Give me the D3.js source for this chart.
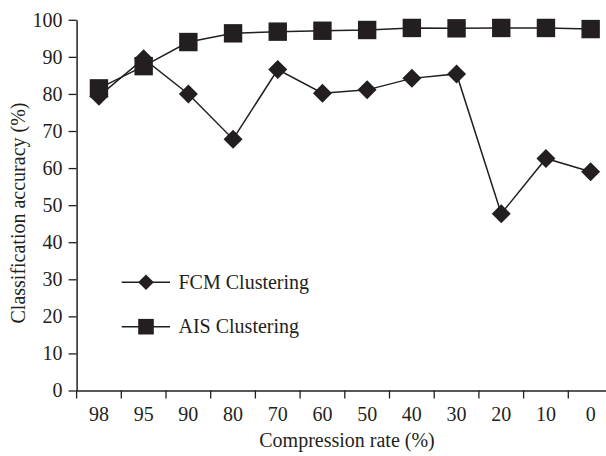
<!DOCTYPE html>
<html>
<head>
<meta charset="utf-8">
<script src="https://cdn.jsdelivr.net/npm/d3@7"></script>
<style>
  html, body { margin: 0; padding: 0; background: #fff; }
  svg { display: block; }
  text { font-family: "Liberation Serif", "DejaVu Serif", serif; fill: #231f20; }
</style>
</head>
<body>
<svg id="chart" width="606" height="456"></svg>
<script>
const categories = ["98", "95", "90", "80", "70", "60", "50", "40", "30", "20", "10", "0"];
const fcmValues = [79.4, 89.5, 80.0, 67.8, 86.6, 80.2, 81.1, 84.2, 85.4, 47.7, 62.6, 59.0];
const aisValues = [81.5, 87.5, 94.0, 96.35, 96.8, 97.05, 97.25, 97.8, 97.7, 97.8, 97.8, 97.5];
const yTicks = [0, 10, 20, 30, 40, 50, 60, 70, 80, 90, 100];
const seriesNames = ["FCM Clustering", "AIS Clustering"];

const ink = "#231f20";
const fs = 20;
const svg = d3.select("#chart");
svg.append("rect").attr("width", 606).attr("height", 456).attr("fill", "#fff");

const x = d3.scaleBand().domain(categories).range([76.6, 76.6 + 12 * 44.7]).padding(0);
const y = d3.scaleLinear().domain([0, 100]).range([390.5, 19.8]);
const cx = d => x(d) + x.bandwidth() / 2;

// Y axis
const yAxis = svg.append("g").attr("transform", `translate(${x.range()[0]},0)`)
  .call(d3.axisLeft(y).tickValues(yTicks).tickSize(8).tickSizeOuter(0).tickPadding(6));
yAxis.select(".domain").attr("stroke", ink).attr("stroke-width", 1.5);
yAxis.selectAll(".tick line").attr("stroke", ink).attr("stroke-width", 1.3);
yAxis.selectAll(".tick text").attr("font-size", fs).attr("fill", ink)
  .style("font-family", '"Liberation Serif", serif');

// X axis: labels centered in bands, ticks at band boundaries
const xAxis = svg.append("g").attr("transform", `translate(0,${y(0)})`)
  .call(d3.axisBottom(x).tickSize(0).tickSizeOuter(0).tickPadding(16));
xAxis.select(".domain").attr("stroke", ink).attr("stroke-width", 1.5);
xAxis.selectAll(".tick text").attr("font-size", fs).attr("fill", ink)
  .style("font-family", '"Liberation Serif", serif');
xAxis.selectAll(".bound").data(categories).enter().append("line")
  .attr("class", "bound")
  .attr("x1", d => x(d)).attr("x2", d => x(d))
  .attr("y1", 0).attr("y2", 8)
  .attr("stroke", ink).attr("stroke-width", 1.3);

// Axis titles
svg.append("text").attr("x", 347).attr("y", 447).attr("text-anchor", "middle")
  .attr("font-size", fs).text("Compression rate (%)");
svg.append("text").attr("transform", "translate(25,213) rotate(-90)")
  .attr("text-anchor", "middle").attr("font-size", fs).text("Classification accuracy (%)");

// Lines
const line = d3.line().x((d, i) => cx(categories[i])).y(d => y(d));
svg.append("path").datum(fcmValues).attr("d", line)
  .attr("fill", "none").attr("stroke", ink).attr("stroke-width", 1.5);
svg.append("path").datum(aisValues).attr("d", line)
  .attr("fill", "none").attr("stroke", ink).attr("stroke-width", 1.5);

// Markers
function diamondPath(h) { return `M0,${-h}L${h},0L0,${h}L${-h},0Z`; }
svg.append("g").selectAll("path").data(fcmValues).enter().append("path")
  .attr("transform", (d, i) => `translate(${cx(categories[i])},${y(d)})`)
  .attr("d", diamondPath(9.5)).attr("fill", ink);
svg.append("g").selectAll("rect").data(aisValues).enter().append("rect")
  .attr("x", (d, i) => cx(categories[i]) - 9.2).attr("y", d => y(d) - 9.2)
  .attr("width", 18.4).attr("height", 18.4).attr("fill", ink);

// Legend
const legend = svg.append("g");
const legY = [282.3, 326.7];
seriesNames.forEach((name, i) => {
  legend.append("line").attr("x1", 121.7).attr("x2", 170).attr("y1", legY[i]).attr("y2", legY[i])
    .attr("stroke", ink).attr("stroke-width", 1.5);
  if (i === 0) {
    legend.append("path").attr("transform", `translate(146,${legY[i]})`)
      .attr("d", diamondPath(7.8)).attr("fill", ink);
  } else {
    legend.append("rect").attr("x", 146 - 7.8).attr("y", legY[i] - 7.8)
      .attr("width", 15.6).attr("height", 15.6).attr("fill", ink);
  }
  legend.append("text").attr("x", 178.5).attr("y", legY[i] + 6.5)
    .attr("font-size", fs).text(name);
});
</script>
</body>
</html>
